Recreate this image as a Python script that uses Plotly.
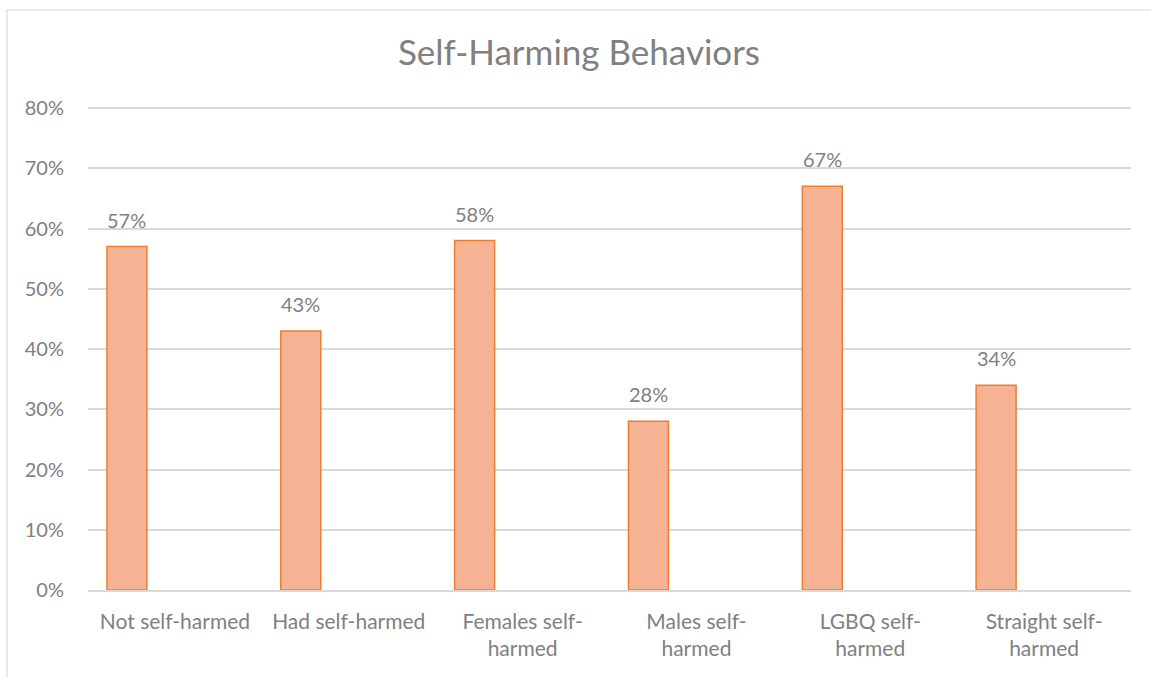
import plotly.graph_objects as go

categories = ["Not self-harmed", "Had self-harmed", "Females self-<br>harmed",
              "Males self-<br>harmed", "LGBQ self-<br>harmed", "Straight self-<br>harmed"]
values = [0.57, 0.43, 0.58, 0.28, 0.67, 0.34]
labels = ["57%", "43%", "58%", "28%", "67%", "34%"]
y_ticks = [0, 0.1, 0.2, 0.3, 0.4, 0.5, 0.6, 0.7, 0.8]
y_ticktext = ["0%", "10%", "20%", "30%", "40%", "50%", "60%", "70%", "80%"]

FONT = "Lato"
GREY = "#808080"
BAR_W = 0.23
BAR_OFF = -0.391

xs = list(range(len(categories)))

fig = go.Figure()
fig.add_trace(go.Bar(
    x=xs, y=values, width=BAR_W, offset=BAR_OFF,
    marker=dict(color="#F6B393", line=dict(color="#ED7D31", width=1.5)),
    hoverinfo="skip",
))

for i, (v, t) in enumerate(zip(values, labels)):
    fig.add_annotation(x=i + BAR_OFF + BAR_W / 2, y=v, text=t, showarrow=False,
                       yanchor="bottom", yshift=13,
                       font=dict(family=FONT, size=20, color=GREY))

# plot area: y from 102 to 590 px, range [0, 0.81]
fig.add_shape(type="rect", xref="paper", yref="paper",
              x0=-0.0777, x1=1.03, y0=-0.2, y1=1 + 92 / 488,
              line=dict(color="#D9D9D9", width=1.2), fillcolor="rgba(0,0,0,0)", layer="below")

fig.update_layout(
    width=1151, height=677,
    margin=dict(l=88, r=20, t=102, b=87),
    paper_bgcolor="white", plot_bgcolor="white",
    showlegend=False,
    title=dict(text="Self-Harming Behaviors", x=0.503, xanchor="center",
               y=0.922, yanchor="middle",
               font=dict(family=FONT, size=35, color=GREY)),
    xaxis=dict(range=[-0.5, 5.5], tickmode="array", tickvals=xs, ticktext=categories,
               showgrid=False, zeroline=False, showline=True, linecolor="#D9D9D9", linewidth=1.5,
               tickfont=dict(family=FONT, size=21, color=GREY), ticks="", ticklabelstandoff=12,
               fixedrange=True),
    yaxis=dict(range=[0, 0.81], tickmode="array", tickvals=y_ticks, ticktext=y_ticktext,
               showgrid=True, gridcolor="#D9D9D9", gridwidth=1.5, zeroline=False, showline=False,
               tickfont=dict(family=FONT, size=20, color=GREY), ticks="", ticklabelstandoff=23,
               fixedrange=True),
)

fig.write_html("out.html", config={"displayModeBar": False},
               post_script="document.body.style.margin='0';")
